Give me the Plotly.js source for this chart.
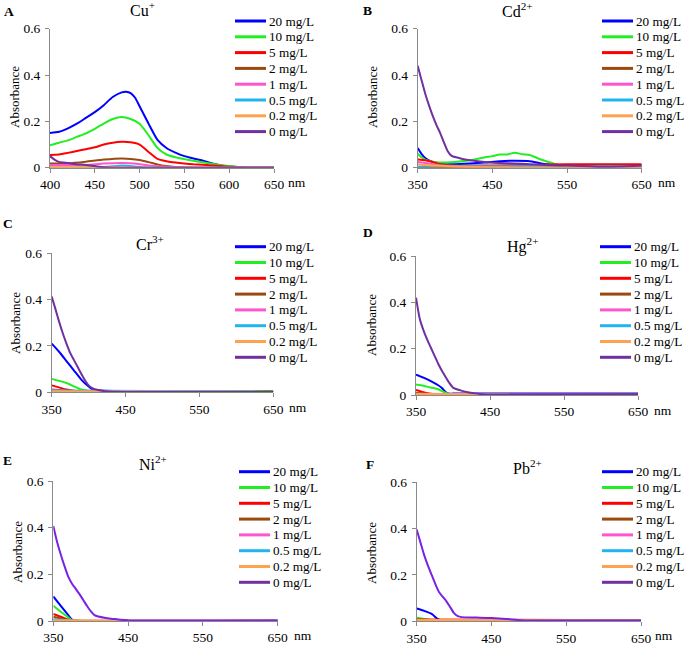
<!DOCTYPE html>
<html>
<head>
<meta charset="utf-8">
<script src="https://cdn.plot.ly/plotly-3.0.1.min.js"></script>
<style>
  html, body { margin: 0; padding: 0; background: #fff; }
  #chart { width: 685px; height: 645px; }
</style>
</head>
<body>
<div id="chart"></div>
<script>
// concentrations and colours (same order in every panel)
var concLabels = ["20 mg/L", "10 mg/L", "5 mg/L", "2 mg/L", "1 mg/L", "0.5 mg/L", "0.2 mg/L", "0 mg/L"];
var lineColors = ["#0000ff", "#22ee22", "#ff0000", "#9a4a10", "#ff55cc", "#22b4ee", "#ffa24f", "#7030a0"];

// A - Cu+
var cu20x = [400, 410, 420, 430, 440, 450, 460, 470, 480, 485, 490, 495, 500, 510, 520, 530, 540, 550, 560, 570, 580, 590, 600, 610, 620, 650];
var cu20y = [0.150, 0.155, 0.170, 0.190, 0.215, 0.240, 0.270, 0.305, 0.325, 0.328, 0.322, 0.302, 0.265, 0.190, 0.120, 0.085, 0.065, 0.050, 0.040, 0.031, 0.019, 0.011, 0.006, 0.002, 0, 0];
var cu10x = [400, 410, 420, 430, 440, 450, 460, 470, 480, 490, 500, 510, 520, 530, 540, 550, 560, 570, 580, 590, 600, 610, 620, 650];
var cu10y = [0.097, 0.108, 0.118, 0.133, 0.148, 0.168, 0.190, 0.210, 0.219, 0.210, 0.190, 0.140, 0.085, 0.057, 0.045, 0.037, 0.030, 0.024, 0.017, 0.011, 0.007, 0.003, 0, 0];
var cu5x = [400, 410, 420, 430, 440, 450, 460, 470, 480, 490, 500, 510, 520, 530, 540, 550, 560, 570, 580, 590, 600, 610, 650];
var cu5y = [0.055, 0.057, 0.064, 0.072, 0.080, 0.088, 0.100, 0.108, 0.112, 0.110, 0.100, 0.068, 0.038, 0.028, 0.022, 0.018, 0.015, 0.013, 0.010, 0.007, 0.004, 0.001, 0];
var cu2x = [400, 420, 440, 460, 480, 490, 500, 510, 520, 530, 540, 550, 650];
var cu2y = [0.018, 0.019, 0.026, 0.035, 0.040, 0.038, 0.033, 0.024, 0.014, 0.007, 0.003, 0.001, 0];
var cu1x = [400, 440, 460, 480, 490, 500, 510, 520, 540, 550, 650];
var cu1y = [0.012, 0.012, 0.018, 0.020, 0.019, 0.015, 0.010, 0.006, 0.002, 0, 0];
var cu05x = [400, 460, 470, 480, 490, 500, 520, 650];
var cu05y = [0.002, 0.003, 0.006, 0.009, 0.007, 0.003, 0, 0];
var cu02x = [400, 440, 460, 480, 500, 650];
var cu02y = [0.003, 0.003, 0.002, 0.001, 0, 0];
var cu0x = [400, 405, 410, 420, 430, 440, 450, 460, 470, 650];
var cu0y = [0.050, 0.035, 0.025, 0.020, 0.015, 0.012, 0.007, 0.002, 0, 0];

// B - Cd2+
var cd20x = [350, 355, 360, 370, 380, 400, 420, 440, 460, 480, 500, 510, 520, 540, 600, 650];
var cd20y = [0.085, 0.060, 0.042, 0.025, 0.016, 0.015, 0.018, 0.022, 0.028, 0.030, 0.028, 0.022, 0.016, 0.012, 0.010, 0.010];
var cd10x = [350, 355, 360, 370, 380, 400, 420, 440, 450, 460, 470, 480, 490, 500, 510, 520, 530, 540, 560, 600, 650];
var cd10y = [0.060, 0.045, 0.035, 0.026, 0.022, 0.025, 0.032, 0.045, 0.050, 0.057, 0.057, 0.065, 0.058, 0.055, 0.042, 0.030, 0.020, 0.012, 0.010, 0.008, 0.008];
var cd5x = [350, 360, 370, 380, 400, 450, 500, 550, 650];
var cd5y = [0.035, 0.032, 0.025, 0.015, 0.010, 0.010, 0.012, 0.015, 0.015];
var cd2x = [350, 400, 650];
var cd2y = [0.003, 0.002, 0.003];
var cd1x = [350, 360, 380, 400, 650];
var cd1y = [0.025, 0.020, 0.010, 0.005, 0.005];
var cd05x = [350, 380, 450, 650];
var cd05y = [0.004, 0.008, 0.006, 0.006];
var cd02x = [350, 360, 380, 400, 450, 500, 650];
var cd02y = [0.015, 0.012, 0.008, 0.005, 0.002, 0.001, 0.001];
var cd0x = [350, 355, 360, 365, 370, 375, 380, 385, 390, 395, 400, 410, 420, 440, 460, 480, 500, 520, 540, 560, 580, 600, 620, 650];
var cd0y = [0.440, 0.380, 0.320, 0.270, 0.225, 0.185, 0.150, 0.110, 0.072, 0.052, 0.046, 0.038, 0.032, 0.025, 0.020, 0.018, 0.015, 0.012, 0.010, 0.008, 0.006, 0.004, 0.005, 0.010];

// C - Cr3+
var cr20x = [350, 360, 370, 380, 390, 400, 405, 410, 450, 650];
var cr20y = [0.210, 0.175, 0.135, 0.095, 0.055, 0.025, 0.014, 0.009, 0.005, 0.005];
var cr10x = [350, 370, 390, 400, 420, 650];
var cr10y = [0.058, 0.040, 0.012, 0.007, 0.006, 0.006];
var cr5x = [350, 370, 390, 650];
var cr5y = [0.030, 0.012, 0.003, 0.001];
var cr2x = [350, 380, 650];
var cr2y = [0.012, 0.005, 0.003];
var cr1x = [350, 400, 650];
var cr1y = [0.010, 0.001, 0.001];
var cr05x = [350, 650];
var cr05y = [0.008, 0.003];
var cr02x = [350, 650];
var cr02y = [0.004, 0.002];
var cr0x = [350, 355, 360, 365, 370, 375, 380, 385, 390, 395, 400, 405, 410, 420, 440, 450, 650];
var cr0y = [0.413, 0.360, 0.305, 0.255, 0.210, 0.170, 0.140, 0.110, 0.080, 0.052, 0.030, 0.018, 0.012, 0.006, 0.002, 0.001, 0.001];

// D - Hg2+
var hg20x = [350, 360, 370, 380, 385, 390, 395, 400, 650];
var hg20y = [0.088, 0.075, 0.060, 0.042, 0.030, 0.013, 0.006, 0.006, 0.007];
var hg10x = [350, 360, 370, 380, 390, 395, 400, 650];
var hg10y = [0.045, 0.040, 0.032, 0.025, 0.010, 0.005, 0.003, 0.003];
var hg5x = [350, 360, 370, 380, 650];
var hg5y = [0.022, 0.012, 0.005, 0.002, 0.001];
var hg2x = [350, 370, 650];
var hg2y = [0.010, 0.004, 0.002];
var hg1x = [350, 650];
var hg1y = [0.005, 0.001];
var hg05x = [350, 650];
var hg05y = [0.003, 0.002];
var hg02x = [350, 650];
var hg02y = [0.004, 0.003];
var hg0x = [350, 355, 360, 365, 370, 375, 380, 385, 390, 395, 400, 410, 420, 430, 440, 450, 650];
var hg0y = [0.420, 0.330, 0.280, 0.240, 0.205, 0.170, 0.135, 0.105, 0.078, 0.052, 0.032, 0.020, 0.012, 0.007, 0.003, 0.002, 0.003];

// E - Ni2+
var ni20x = [350, 360, 370, 375, 380, 650];
var ni20y = [0.105, 0.065, 0.025, 0.006, 0.001, 0.001];
var ni10x = [350, 360, 370, 375, 380, 650];
var ni10y = [0.065, 0.040, 0.015, 0.004, 0.001, 0.001];
var ni5x = [350, 360, 370, 380, 650];
var ni5y = [0.030, 0.018, 0.005, 0.001, 0.001];
var ni2x = [350, 370, 380, 650];
var ni2y = [0.018, 0.004, 0.001, 0.001];
var ni1x = [350, 380, 650];
var ni1y = [0.005, 0.001, 0.001];
var ni05x = [350, 380, 650];
var ni05y = [0.008, 0.001, 0.001];
var ni02x = [350, 450, 650];
var ni02y = [0.003, 0.002, 0.002];
var ni0x = [350, 355, 360, 365, 370, 375, 380, 385, 390, 395, 400, 405, 410, 420, 430, 440, 450, 650];
var ni0y = [0.407, 0.340, 0.285, 0.235, 0.190, 0.160, 0.138, 0.115, 0.090, 0.065, 0.042, 0.025, 0.019, 0.013, 0.009, 0.005, 0.003, 0.002];

// F - Pb2+
var pb20x = [350, 360, 370, 378, 382, 400, 650];
var pb20y = [0.055, 0.045, 0.032, 0.010, 0.005, 0.004, 0.003];
var pb10x = [350, 360, 370, 380, 650];
var pb10y = [0.015, 0.010, 0.005, 0.004, 0.003];
var pb5x = [350, 650];
var pb5y = [0.008, 0.005];
var pb2x = [350, 650];
var pb2y = [0.005, 0.004];
var pb1x = [350, 650];
var pb1y = [0.004, 0.003];
var pb05x = [350, 650];
var pb05y = [0.002, 0.002];
var pb02x = [350, 650];
var pb02y = [0.006, 0.005];
var pb0x = [350, 355, 360, 365, 370, 375, 380, 385, 390, 395, 400, 405, 410, 430, 450, 470, 490, 520, 650];
var pb0y = [0.395, 0.340, 0.285, 0.240, 0.200, 0.160, 0.125, 0.105, 0.085, 0.060, 0.035, 0.022, 0.018, 0.016, 0.014, 0.010, 0.005, 0.003, 0.003];

var W = 685, H = 645;
var serif = "Liberation Serif, Times New Roman, serif";
var axisGrey = "#8a8a8a";
var legStep = 15.8;

function fx(p) { return p / W; }
function fy(p) { return 1 - p / H; }

// panel layout in pixels: plot box, legend, labels
var panels = [
    { letter: "A", ion: "Cu<sup>+</sup>", xr: [400, 650], ticks: [400, 450, 500, 550, 600, 650],
      series: [[cu20x, cu20y], [cu10x, cu10y], [cu5x, cu5y], [cu2x, cu2y], [cu1x, cu1y], [cu05x, cu05y], [cu02x, cu02y], [cu0x, cu0y]],
      box: [50, 274, 28.7, 167.7], leg: [235, 21], let: [9, 12], ttl: [142, 9], yt: [15, 97], nm: [297, 183] },
    { letter: "B", ion: "Cd<sup>2+</sup>", xr: [350, 650], ticks: [350, 450, 550, 650],
      series: [[cd20x, cd20y], [cd10x, cd10y], [cd5x, cd5y], [cd2x, cd2y], [cd1x, cd1y], [cd05x, cd05y], [cd02x, cd02y], [cd0x, cd0y]],
      box: [417.7, 641.7, 28.7, 167.7], leg: [602, 21], let: [367, 10], ttl: [517, 10], yt: [373, 97], nm: [667, 183] },
    { letter: "C", ion: "Cr<sup>3+</sup>", xr: [350, 650], ticks: [350, 450, 550, 650],
      series: [[cr20x, cr20y], [cr10x, cr10y], [cr5x, cr5y], [cr2x, cr2y], [cr1x, cr1y], [cr05x, cr05y], [cr02x, cr02y], [cr0x, cr0y]],
      box: [51.7, 273.3, 253.3, 392.3], leg: [235, 246.7], let: [8, 223], ttl: [150, 243], yt: [15, 323], nm: [298, 407] },
    { letter: "D", ion: "Hg<sup>2+</sup>", xr: [350, 650], ticks: [350, 450, 550, 650],
      series: [[hg20x, hg20y], [hg10x, hg10y], [hg5x, hg5y], [hg2x, hg2y], [hg1x, hg1y], [hg05x, hg05y], [hg02x, hg02y], [hg0x, hg0y]],
      box: [416, 638, 256, 395], leg: [600, 246.7], let: [368, 232], ttl: [522, 245], yt: [371, 325], nm: [663, 410] },
    { letter: "E", ion: "Ni<sup>2+</sup>", xr: [350, 650], ticks: [350, 450, 550, 650],
      series: [[ni20x, ni20y], [ni10x, ni10y], [ni5x, ni5y], [ni2x, ni2y], [ni1x, ni1y], [ni05x, ni05y], [ni02x, ni02y], [ni0x, ni0y]],
      box: [53.3, 277.7, 481, 621], leg: [239, 471.7], let: [8, 460], ttl: [153, 463], yt: [17, 552], nm: [303, 635] },
    { letter: "F", ion: "Pb<sup>2+</sup>", xr: [350, 650], ticks: [350, 450, 550, 650],
      series: [[pb20x, pb20y], [pb10x, pb10y], [pb5x, pb5y], [pb2x, pb2y], [pb1x, pb1y], [pb05x, pb05y], [pb02x, pb02y], [pb0x, pb0y]],
      box: [416.7, 641, 482, 621.3], leg: [602, 471.7], let: [370, 465], ttl: [527, 467], yt: [371, 553], nm: [664, 635] }
];

var traces = [];
var layout = {
    width: W,
    height: H,
    margin: { l: 0, r: 0, t: 0, b: 0 },
    paper_bgcolor: "#ffffff",
    plot_bgcolor: "#ffffff",
    showlegend: false,
    font: { family: serif, color: "#000000", size: 13 },
    annotations: [],
    shapes: []
};

panels.forEach(function (p, i) {
    var n = i + 1;
    var sfx = n === 1 ? "" : String(n);
    var purple = (p.letter === "E" || p.letter === "F") ? "#7a22e6" : lineColors[7];

    p.series.forEach(function (s, k) {
        var col = k === 7 ? purple : lineColors[k];
        traces.push({
            x: s[0], y: s[1],
            type: "scatter", mode: "lines",
            name: concLabels[k],
            xaxis: "x" + sfx, yaxis: "y" + sfx,
            line: { color: col, width: 2, shape: "spline", smoothing: 0.6 },
            hoverinfo: "skip"
        });

        // legend row: short key line + label (Excel-style tight legend)
        var ly = p.leg[1] + k * legStep;
        layout.shapes.push({
            type: "line", xref: "paper", yref: "paper",
            x0: fx(p.leg[0]), x1: fx(p.leg[0] + 31), y0: fy(ly), y1: fy(ly),
            line: { color: lineColors[k], width: 3 }
        });
        layout.annotations.push({
            text: concLabels[k], x: fx(p.leg[0] + 32), y: fy(ly), xref: "paper", yref: "paper",
            xanchor: "left", yanchor: "middle", showarrow: false,
            font: { family: serif, size: 13.2, color: "#000" }
        });
    });

    var axBase = {
        showgrid: false, zeroline: false, showline: true,
        linecolor: axisGrey, linewidth: 1,
        ticks: "outside", ticklen: 4, tickcolor: axisGrey,
        tickfont: { family: serif, size: 13.5, color: "#000" }
    };
    layout["xaxis" + sfx] = Object.assign({}, axBase, {
        domain: [fx(p.box[0]), fx(p.box[1])],
        anchor: "y" + sfx,
        range: p.xr,
        tickvals: p.ticks
    });
    layout["yaxis" + sfx] = Object.assign({}, axBase, {
        domain: [fy(p.box[3]), fy(p.box[2])],
        anchor: "x" + sfx,
        range: [0, 0.6],
        tickvals: [0, 0.2, 0.4, 0.6],
        ticktext: ["0", "0.2", "0.4", "0.6"],
        ticklabelstandoff: 2
    });

    layout.annotations.push(
        { text: "<b>" + p.letter + "</b>", x: fx(p.let[0]), y: fy(p.let[1]), xref: "paper", yref: "paper",
          xanchor: "center", yanchor: "middle", showarrow: false, font: { family: serif, size: 13.5 } },
        { text: p.ion, x: fx(p.ttl[0]), y: fy(p.ttl[1]), xref: "paper", yref: "paper",
          xanchor: "center", yanchor: "middle", showarrow: false, font: { family: serif, size: 16 } },
        { text: "Absorbance", x: fx(p.yt[0]), y: fy(p.yt[1]), xref: "paper", yref: "paper", textangle: -90,
          xanchor: "center", yanchor: "middle", showarrow: false, font: { family: serif, size: 13 } },
        { text: "nm", x: fx(p.nm[0]), y: fy(p.nm[1]), xref: "paper", yref: "paper",
          xanchor: "center", yanchor: "middle", showarrow: false, font: { family: serif, size: 13.5 } }
    );
});

Plotly.newPlot("chart", traces, layout, { displayModeBar: false, staticPlot: true });
</script>
</body>
</html>
